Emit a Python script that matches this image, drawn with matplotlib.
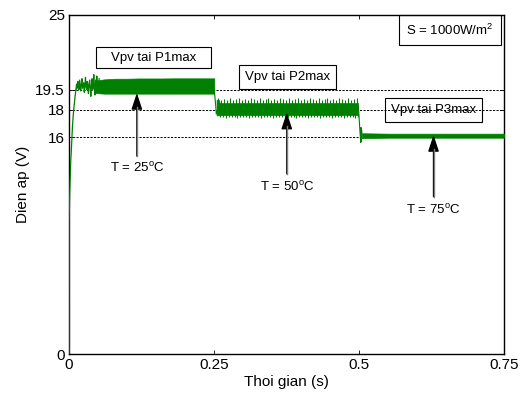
import numpy as np
import matplotlib
matplotlib.use('Agg')
import matplotlib.pyplot as plt
from matplotlib.patches import Rectangle

plt.rcParams['font.family'] = ['Liberation Sans', 'DejaVu Sans']
plt.rcParams['mathtext.fontset'] = 'custom'
plt.rcParams['mathtext.rm'] = 'Liberation Sans'

# ---------------- data ----------------
x_ticks = [0, 0.25, 0.5, 0.75]
x_tick_labels = ['0', '0.25', '0.5', '0.75']
y_ticks = [0, 16, 18, 19.5, 25]
y_tick_labels = ['0', '16', '18', '19.5', '25']
ref_levels = [19.5, 18, 16]

# start-up transient
start_t = [0.0, 0.0002, 0.0006, 0.0012, 0.002, 0.003, 0.004, 0.005, 0.006, 0.0075, 0.009, 0.0105, 0.012]
start_v = [0.0, 9.8, 10.6, 11.8, 12.9, 14.2, 15.0, 15.9, 16.8, 17.7, 18.4, 19.0, 19.5]

# noisy settling between ~0.012 s and ~0.05 s
noise_v = [19.5, 19.9, 19.6, 20.1, 19.7, 19.5, 20.2, 19.8, 19.4, 19.9, 20.3, 19.6,
           19.7, 20.0, 19.3, 19.8, 20.4, 19.7, 19.5, 20.1, 19.8, 19.2, 19.9, 20.2,
           19.6, 19.0, 19.8, 20.3, 19.5, 19.9, 20.6, 19.4, 19.1, 20.2, 19.7, 20.5,
           19.6, 20.1, 19.8, 20.3]
noise_span = (0.012, 0.052)

# P1 (T = 25 C) ripple band
p1_t = [0.045, 0.06, 0.08, 0.10, 0.12, 0.14, 0.16, 0.18, 0.20, 0.22, 0.24, 0.2505]
p1_top = [20.15, 20.25, 20.3, 20.3, 20.32, 20.32, 20.32, 20.33, 20.33, 20.33, 20.33, 20.33]
p1_bot = [19.25, 19.2, 19.2, 19.2, 19.2, 19.2, 19.2, 19.2, 19.2, 19.2, 19.2, 19.2]

# step to P2
trans1_t = [0.2505, 0.2515, 0.2528, 0.254, 0.2548]
trans1_v = [19.3, 19.0, 18.4, 17.7, 17.9]

# P2 (T = 50 C) ripple band with spikes
p2_t = [0.2545, 0.258, 0.26, 0.30, 0.35, 0.40, 0.45, 0.4985]
p2_top = [18.75, 18.75, 18.5, 18.5, 18.5, 18.5, 18.5, 18.5]
p2_bot = [17.6, 17.6, 17.62, 17.62, 17.62, 17.62, 17.62, 17.62]
p2_spike_top = [18.85, 18.7, 18.8, 18.75, 18.85, 18.7, 18.8, 18.85, 18.75, 18.8,
                18.7, 18.85, 18.8, 18.75, 18.85, 18.7, 18.8, 18.85, 18.75, 18.8,
                18.7, 18.85, 18.8, 18.75, 18.85, 18.7, 18.8, 18.85, 18.75, 18.8,
                18.7, 18.85, 18.8, 18.75, 18.85, 18.7, 18.8, 18.85, 18.75, 18.8,
                18.7, 18.85, 18.8, 18.75, 18.85, 18.7, 18.8, 18.85]
p2_spike_bot = [17.45, 17.5, 17.42, 17.5, 17.45, 17.5, 17.42, 17.48, 17.45, 17.5,
                17.42, 17.5, 17.45, 17.5, 17.42, 17.48, 17.45, 17.5, 17.42, 17.5,
                17.45, 17.5, 17.42, 17.48, 17.45, 17.5, 17.42, 17.5, 17.45, 17.5,
                17.42, 17.48, 17.45, 17.5, 17.42, 17.5, 17.45, 17.5, 17.42, 17.48,
                17.45, 17.5, 17.42, 17.5, 17.45, 17.5, 17.42, 17.48]
p2_spike_span = (0.2575, 0.4965)

# step to P3
trans2_t = [0.4985, 0.4995, 0.5005, 0.5015, 0.5025, 0.503, 0.5035, 0.504, 0.5045, 0.505]
trans2_v = [18.3, 17.9, 17.2, 16.5, 15.9, 15.6, 16.7, 15.7, 16.5, 16.1]

# P3 (T = 75 C) band
p3_t = [0.505, 0.55, 0.60, 0.65, 0.70, 0.75]
p3_top = [16.28, 16.25, 16.25, 16.25, 16.25, 16.25]
p3_bot = [15.92, 15.95, 15.95, 15.95, 15.95, 15.95]

# annotations
arrow_t = [0.117, 0.3755, 0.6285]
arrow_head_v = [19.25, 17.8, 16.15]
arrow_tail_v = [14.6, 13.3, 11.6]
temp_labels = ['T = 25$^\\mathregular{o}$C', 'T = 50$^\\mathregular{o}$C', 'T = 75$^\\mathregular{o}$C']
temp_label_v = [13.7, 12.3, 10.6]

box_labels = ['Vpv tai P1max', 'Vpv tai P2max', 'Vpv tai P3max']
box_t = [0.1457, 0.3767, 0.6284]
box_v = [21.83, 20.43, 18.0]

irr_label = 'S = 1000W/m$^\\mathregular{2}$'
irr_pos = (0.657, 23.9)

# ---------------- drawing ----------------
green = '#008000'
fig = plt.figure(figsize=(5.23, 3.99), dpi=100)
ax = fig.add_axes([69 / 523, 45 / 399, 435 / 523, 339 / 399])
ax.set_xlim(0, 0.75)
ax.set_ylim(0, 25)

# reference dashed lines
for lv in ref_levels:
    ax.axhline(lv, color='black', lw=0.7, dashes=(2.2, 1.4), zorder=3)

# signal
ax.plot(start_t, start_v, color=green, lw=0.9, zorder=4)
ax.plot(np.linspace(noise_span[0], noise_span[1], len(noise_v)), noise_v,
        color=green, lw=0.9, zorder=4)
ax.fill_between(p1_t, p1_bot, p1_top, color=green, lw=0.5, zorder=4)
ax.plot(trans1_t, trans1_v, color=green, lw=0.8, zorder=4)
ax.fill_between(p2_t, p2_bot, p2_top, color=green, lw=0.5, zorder=4)
spike_t = np.linspace(p2_spike_span[0], p2_spike_span[1], len(p2_spike_top))
ax.vlines(spike_t, 18.4, p2_spike_top, color=green, lw=0.8, zorder=4)
ax.vlines(spike_t + 0.0025, p2_spike_bot, 17.7, color=green, lw=0.8, zorder=4)
ax.plot(trans2_t, trans2_v, color=green, lw=0.8, zorder=4)
ax.fill_between(p3_t, p3_bot, p3_top, color=green, lw=0.5, zorder=4)

# arrows
for t, hv, tv, lab, lv in zip(arrow_t, arrow_head_v, arrow_tail_v, temp_labels, temp_label_v):
    ax.annotate('', xy=(t, hv), xytext=(t, tv),
                arrowprops=dict(arrowstyle='-|>,head_length=1.0,head_width=0.33',
                                color='black', lw=1.0, mutation_scale=10,
                                shrinkA=0, shrinkB=0), zorder=6)
    ax.plot([t, t], [tv, hv - 1.0], color='#7f7f7f', lw=1.0, zorder=7)
    ax.text(t, lv, lab, ha='center', va='center', fontsize=9.5, zorder=8)

# boxed labels
for i, (lab, t, v) in enumerate(zip(box_labels, box_t, box_v)):
    if i == 0:
        # the first box is drawn wider than its text in the reference
        w = 115 / 435 * 0.75
        h = 21 / 339 * 25
        ax.add_patch(Rectangle((t - w / 2, v - h / 2), w, h, fc='white', ec='black',
                               lw=0.8, zorder=2))
        ax.text(t, v, lab, ha='center', va='center', fontsize=9.5, zorder=2.5)
    else:
        ax.text(t, v, lab, ha='center', va='center', fontsize=9.5, zorder=2,
                bbox=dict(boxstyle='square,pad=0.45', fc='white', ec='black', lw=0.8))

ax.text(irr_pos[0], irr_pos[1], irr_label, ha='center', va='center', fontsize=9.5,
        zorder=2, bbox=dict(boxstyle='square,pad=0.55', fc='white', ec='black', lw=0.8))

# axes styling
ax.set_xticks(x_ticks)
ax.set_xticklabels(x_tick_labels)
ax.set_yticks(y_ticks)
ax.set_yticklabels(y_tick_labels)
ax.tick_params(direction='in', length=3, width=0.6, labelsize=11, pad=3,
               top=True, right=True)
for s in ax.spines.values():
    s.set_linewidth(1.0)
ax.set_xlabel('Thoi gian (s)', fontsize=11, labelpad=2)
ax.set_ylabel('Dien ap (V)', fontsize=11, labelpad=4)

fig.savefig('out.png', dpi=100)
